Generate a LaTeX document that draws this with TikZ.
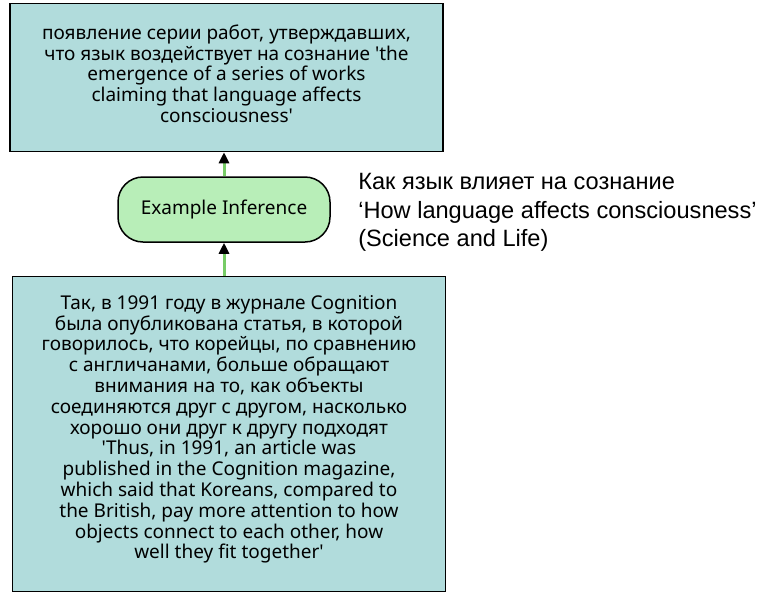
\documentclass[tikz,border=0pt]{standalone}
\usepackage{fontspec}
\setmainfont{Noto Sans}
\newfontfamily\titlefont{Liberation Sans}
\usetikzlibrary{arrows.meta}
\usetikzlibrary{positioning}
\definecolor{quotefill}{HTML}{B1DCDC}
\definecolor{inffill}{HTML}{B8EEB8}
\definecolor{infline}{HTML}{77CC66}
\tikzstyle{quote} = [rectangle, draw=black, line width=1.5pt, fill=quotefill, align=center, font=\fontsize{19}{20.8}\selectfont]
\tikzstyle{inference} = [rectangle, rounded corners=25pt, draw=black, line width=1.5pt, fill=inffill, minimum width=212pt, minimum height=65pt, font=\fontsize{19}{22}\selectfont]
\tikzstyle{support} = [draw=infline, line width=3pt, -{Triangle[color=black, length=11pt, width=10pt]}]

\begin{document}
\begin{tikzpicture}[x=1pt, y=1pt, node distance=24pt]
 \useasboundingbox (0,0) rectangle (760,-592);

 \node (inf) [inference] at (224,-209.5) {Example Inference};

 \node (claim) [quote, minimum width=433pt, minimum height=148pt, above=24pt of inf, xshift=2.5pt] {
  появление серии работ, утверждавших,\\
  что язык воздействует на сознание \textquotesingle the\\
  emergence of a series of works\\
  claiming that language affects\\
  consciousness\textquotesingle\\[-13pt]\mbox{}};

 \node (evidence) [quote, minimum width=433pt, minimum height=315pt, below=33pt of inf, xshift=5pt] {
  Так, в 1991 году в журнале Cognition\\
  была опубликована статья, в которой\\
  говорилось, что корейцы, по сравнению\\
  с англичанами, больше обращают\\
  внимания на то, как объекты\\
  соединяются друг с другом, насколько\\
  хорошо они друг к другу подходят\\
  \textquotesingle Thus, in 1991, an article was\\
  published in the Cognition magazine,\\
  which said that Koreans, compared to\\
  the British, pay more attention to how\\
  objects connect to each other, how\\
  well they fit together\textquotesingle\\[-7pt]\mbox{}};

 \node (source) [right=24pt of inf, anchor=west, yshift=-3pt, align=left, font=\titlefont\fontsize{23.6}{28.5}\selectfont] {
  Как язык влияет на сознание\\
  ‘How language affects consciousness’\\
  (Science and Life)};

 \draw [support] (inf) -- (claim.south -| inf);
 \draw [support] (evidence.north -| inf) -- (inf);
\end{tikzpicture}
\end{document}
